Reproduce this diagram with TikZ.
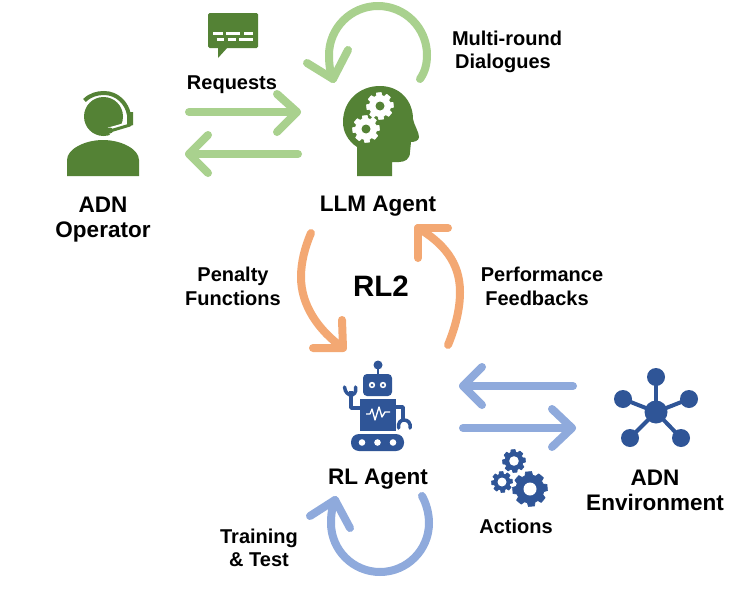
\documentclass[tikz,border=0pt]{standalone}
\usepackage{fontspec}
\setmainfont{Liberation Sans}
\definecolor{dgreen}{HTML}{548235}
\definecolor{lgreen}{HTML}{A9D18E}
\definecolor{dblue}{HTML}{2F5597}
\definecolor{lblue}{HTML}{8FAADC}
\definecolor{lorange}{HTML}{F3A873}
\newcommand{\cogicon}[7]{% x,y,outer,root,hole,gearcolor,rotation
  \begin{scope}[shift={(#1,#2)},rotate=#7]
    \fill[#6,draw=#6,line width=.7pt,line join=round] (-10:#3) \foreach \i in {0,...,7}{
      -- ({\i*45-10}:#3) -- ({\i*45+10}:#3) -- ({\i*45+16}:#4) -- ({\i*45+29}:#4) } -- cycle;
  \end{scope}}
\tikzset{
  lbl/.style={font=\bfseries\fontsize{#1}{#1}\selectfont,text=black,inner sep=0pt,anchor=center,text height=#1*0.72pt,text depth=0pt},
  link/.style={line width=8pt,line cap=round,line join=round},
}
\begin{document}
\begin{tikzpicture}[x=1pt,y=-1pt]
\useasboundingbox (0,0) rectangle (742,589);
\fill[white] (0,0) rectangle (742,589);

% ---- coordinates
\coordinate (reqS) at (189,112); \coordinate (reqT) at (297,112);
\coordinate (reqA) at (277,94); \coordinate (reqB) at (277,132);
\coordinate (resS) at (298,154); \coordinate (resT) at (189,154);
\coordinate (resA) at (208,135); \coordinate (resB) at (208,173);
\coordinate (fbS) at (573,386); \coordinate (fbT) at (463,386);
\coordinate (fbA) at (482,367); \coordinate (fbB) at (482,405);
\coordinate (acS) at (463,428); \coordinate (acT) at (572,428);
\coordinate (acA) at (552,409); \coordinate (acB) at (552,447);
\coordinate (mlS) at (420,79); \coordinate (mlR) at (427,55); \coordinate (mlU) at (378,6); \coordinate (mlL) at (329,55); \coordinate (mlT) at (333,79);
\coordinate (mlA) at (307,63); \coordinate (mlB) at (348,50);
\coordinate (tlS) at (422,496); \coordinate (tlR) at (429,523); \coordinate (tlD) at (380,572); \coordinate (tlL) at (331,523); \coordinate (tlT) at (335,500);
\coordinate (tlA) at (310,516); \coordinate (tlB) at (350,528);
\coordinate (pfS) at (311,233); \coordinate (pfM) at (301,277); \coordinate (pfT) at (343,348);
\coordinate (pfA) at (342,320); \coordinate (pfB) at (313,348);
\coordinate (pbS) at (448,345); \coordinate (pbM) at (460,292); \coordinate (pbT) at (418,228);
\coordinate (pbA) at (448,228); \coordinate (pbB) at (418,258);

% ---- connectors
\draw[link,lgreen] (reqS) -- (reqT);
\draw[link,lgreen] (reqA) -- (reqT) -- (reqB);
\draw[link,lgreen] (resS) -- (resT);
\draw[link,lgreen] (resA) -- (resT) -- (resB);
\draw[link,lblue] (fbS) -- (fbT);
\draw[link,lblue] (fbA) -- (fbT) -- (fbB);
\draw[link,lblue] (acS) -- (acT);
\draw[link,lblue] (acA) -- (acT) -- (acB);
\draw[link,lgreen] (mlS) .. controls (425,72) and (427,64) .. (mlR) .. controls (427,28) and (405,6) .. (mlU) .. controls (351,6) and (329,28) .. (mlL) .. controls (329,64) and (330,72) .. (mlT);
\draw[link,lgreen] (mlA) -- (mlT) -- (mlB);
\draw[link,lblue] (tlS) .. controls (426,503) and (429,513) .. (tlR) .. controls (429,550) and (407,572) .. (tlD) .. controls (353,572) and (331,550) .. (tlL) .. controls (331,515) and (332,507) .. (tlT);
\draw[link,lblue] (tlA) -- (tlT) -- (tlB);
\draw[link,lorange] (pfS) .. controls (305,247) and (301,262) .. (pfM) .. controls (301,305) and (318,330) .. (pfT);
\draw[link,lorange] (pfA) -- (pfT) -- (pfB);
\draw[link,lorange] (pbS) .. controls (455,328) and (460,310) .. (pbM) .. controls (460,262) and (443,243) .. (pbT);
\draw[link,lorange] (pbA) -- (pbT) -- (pbB);

% ---- speech bubble
\fill[dgreen,rounded corners=1.5pt] (208,13) rectangle (258,48);
\fill[dgreen] (218,47) -- (218,58) -- (228,47) -- cycle;
\foreach \a/\b/\c in {213/222.7/33.5,226/240/33.5,244/252.7/33.5,216.7/224.3/39.3,227.7/235.7/39.3,239.3/252.7/39.3}
  \draw[white,line width=2.6pt] (\a,\c) -- (\b,\c);

% ---- operator
\fill[dgreen] (103.5,116.5) circle (19.5);
\fill[dgreen] (67,176) -- (67,160) .. controls (67,149) and (85,140) .. (103,140) .. controls (121,140) and (139,149) .. (139,160) -- (139,176) -- cycle;
\draw[white,line width=8pt] (132,125) -- (109,131.5);
\draw[dgreen,line width=4pt] (84.5,100.5) .. controls (90,95) and (97,93) .. (104,93) .. controls (117,93) and (127,103) .. (129,115);
\fill[dgreen] (127,112) -- (133,112) -- (133,125) -- (127,127) -- cycle;
\draw[dgreen,line width=3pt,line cap=round] (130,125) -- (110,131);
\fill[dgreen] (110,130.5) circle (3);

% ---- head
\fill[dgreen] (357,176) -- (357,147) .. controls (348,141) and (343,132) .. (343,122) .. controls (343,101) and (359,86) .. (380,86) .. controls (400,86) and (413,101) .. (413,119) .. controls (414,125) and (419,132) .. (419,137) .. controls (419,141) and (414,142) .. (411,142) -- (410,152) .. controls (410,159) and (405,162) .. (399,162) -- (392,162) -- (392,176) -- cycle;
\cogicon{380}{106}{13.5}{10.5}{4.5}{white}{5}
\fill[dgreen] (380,106) circle (4.5);
\cogicon{366}{129}{13.5}{10.5}{4.5}{white}{5}
\fill[dgreen] (366,129) circle (4.5);

% ---- robot
\fill[dblue] (378,365) circle (4.5);
\draw[dblue,line width=2.5pt] (378,365) -- (378,375);
\fill[dblue,rounded corners=4pt] (363,374) rectangle (392,396);
\foreach \x in {372,383}{
  \fill[white] (\x,385) circle (3.2);
  \fill[dblue] (\x,385) circle (1.5);
}
\fill[dblue] (360,399) rectangle (396,431);
\draw[white,line width=1.3pt,line join=round] (366,414) -- (370,414) -- (372,409) -- (375,420) -- (379,407) -- (382,417) -- (385,412) -- (390,412);
\draw[dblue,line width=3.5pt,line join=round] (361,408) -- (351,408) -- (351,391);
\draw[dblue,line width=3.5pt,line cap=round] (344.5,387) .. controls (345,393) and (349,395) .. (351,395) .. controls (353,395) and (357,393) .. (355.5,387);
\draw[dblue,line width=3.5pt,line join=round] (395,407) -- (403,407) -- (403,421);
\draw[dblue,line width=3.5pt,line cap=round] (398.5,428) .. controls (398,422) and (401,420) .. (404,420) .. controls (408,420) and (411,423) .. (410,428);
\fill[dblue,rounded corners=8pt] (351,434) rectangle (404,451);
\foreach \x in {362,377.5,393}
  \fill[white] (\x,442.5) circle (3.3);

% ---- network
\coordinate (hub) at (656,412);
\foreach \x/\y/\n in {656/377/a,623/399/b,689/399/c,630/438/d,681/438/e}{
  \coordinate (sat\n) at (\x,\y);
  \draw[dblue,line width=4pt] (hub) -- (sat\n);
  \fill[dblue] (sat\n) circle (9);
}
\fill[dblue] (hub) circle (11.5);

% ---- action gears
\cogicon{514}{461}{11.5}{9}{5}{dblue}{5}
\fill[white] (514,461) circle (4.8);
\cogicon{502}{482}{10.5}{8}{5}{dblue}{5}
\fill[white] (502,482) circle (4.5);
\cogicon{530}{489}{17.5}{14}{7}{dblue}{5}
\fill[white] (530,489) circle (6.5);

% ---- labels
\node[lbl=22.5] (opA) at (103,204) {ADN};
\node[lbl=22.5] (opB) at (103,229) {Operator};
\node[lbl=22.5] (llm) at (378,203) {LLM Agent};
\node[lbl=20] (req) at (232,82) {Requests};
\node[lbl=20] (mrA) at (507,38) {Multi-round};
\node[lbl=20] (mrB) at (503,61.5) {Dialogues};
\node[lbl=20] (penA) at (233,274) {Penalty};
\node[lbl=20] (penB) at (233,298) {Functions};
\node[lbl=29.5] (rl2) at (381,286) {RL2};
\node[lbl=20] (perfA) at (542,274) {Performance};
\node[lbl=20] (perfB) at (537,298) {Feedbacks};
\node[lbl=22.5] (rla) at (378,476) {RL Agent};
\node[lbl=20] (trA) at (259,536) {Training};
\node[lbl=20] (trB) at (259,559) {\& Test};
\node[lbl=20] (act) at (516,526) {Actions};
\node[lbl=22.5] (envA) at (655,477) {ADN};
\node[lbl=22.5] (envB) at (655,502) {Environment};
\end{tikzpicture}
\end{document}
